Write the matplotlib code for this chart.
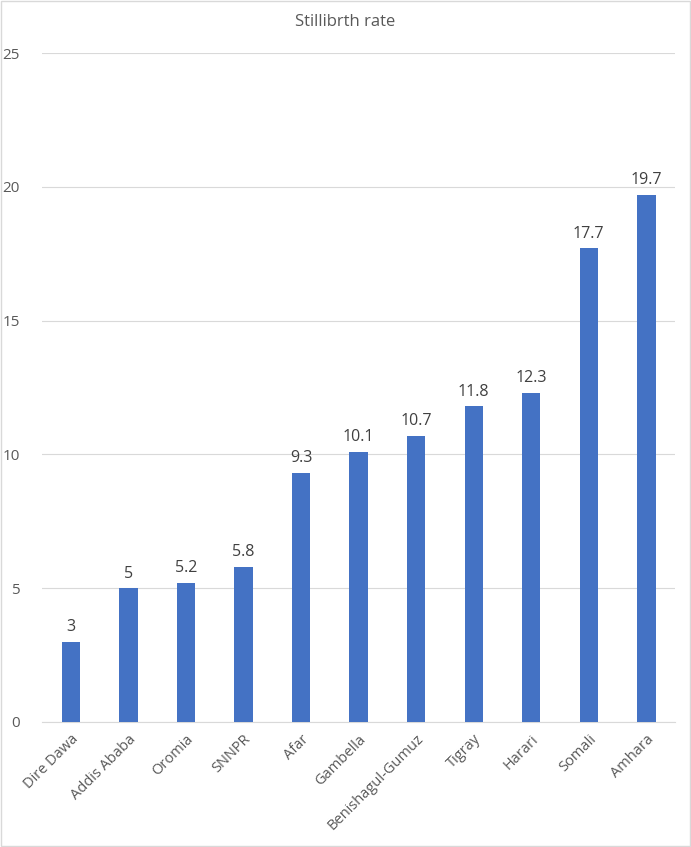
import matplotlib.pyplot as plt
import numpy as np

regions = ["Dire Dawa", "Addis Ababa", "Oromia", "SNNPR", "Afar", "Gambella",
           "Benishagul-Gumuz", "Tigray", "Harari", "Somali", "Amhara"]
rates = [3, 5, 5.2, 5.8, 9.3, 10.1, 10.7, 11.8, 12.3, 17.7, 19.7]
yticks = [0, 5, 10, 15, 20, 25]

plt.rcParams['font.family'] = ['Open Sans', 'DejaVu Sans']

fig = plt.figure(figsize=(6.91, 8.47), dpi=100)
ax = fig.add_axes([0.061, 0.1476, 0.916, 0.7898])

x = np.arange(len(regions))
ax.bar(x, rates, width=0.32, color="#4472C4", zorder=3)
for xi, v in zip(x, rates):
    ax.text(xi, v + 0.25, f"{v:g}", ha="center", va="bottom", fontsize=11.5, color="#404040")

ax.set_xlim(-0.5, len(regions) - 0.5)
ax.set_ylim(0, 25)
ax.set_yticks(yticks)
ax.set_xticks(x)
ax.set_xticklabels(regions, rotation=45, ha="right", rotation_mode="anchor", fontsize=10.5, color="#595959")
ax.tick_params(axis="y", labelsize=11, labelcolor="#595959", length=0, pad=16)
ax.tick_params(axis="x", length=0, pad=7)
ax.grid(axis="y", color="#d9d9d9", linewidth=0.8, zorder=0)
for s in ["top", "right", "left"]:
    ax.spines[s].set_visible(False)
ax.spines["bottom"].set_color("#d9d9d9")

fig.text(0.5, 0.974, "Stillibrth rate", ha="center", va="center", fontsize=12, color="#595959")
fig.patches.append(plt.Rectangle((0.001, 0.001), 0.998, 0.998, transform=fig.transFigure,
                                 fill=False, edgecolor="#d9d9d9", linewidth=1))

fig.savefig("out.png", dpi=100)
